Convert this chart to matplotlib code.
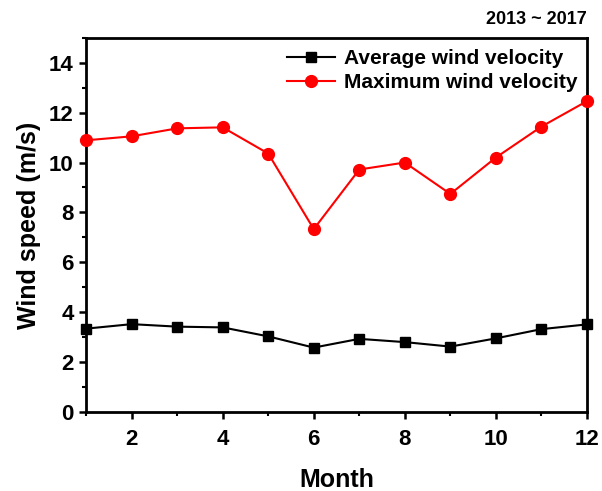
import numpy as np
import matplotlib.pyplot as plt
from matplotlib.ticker import MultipleLocator

plt.rcParams['font.family'] = ['Liberation Sans', 'DejaVu Sans']
plt.rcParams['font.weight'] = 'bold'

months = [1, 2, 3, 4, 5, 6, 7, 8, 9, 10, 11, 12]
avg_wind = [3.34, 3.52, 3.42, 3.39, 3.03, 2.58, 2.93, 2.80, 2.62, 2.95, 3.32, 3.51]
max_wind = [10.89, 11.05, 11.37, 11.41, 10.36, 7.33, 9.72, 10.00, 8.74, 10.20, 11.44, 12.46]

fig = plt.figure(figsize=(6.02, 4.91), dpi=100)
ax = fig.add_axes([0.143, 0.161, 0.832, 0.762])

ax.plot(months, avg_wind, color='black', marker='s', markersize=7.5, lw=1.5,
        label='Average wind velocity', clip_on=False, zorder=3)
ax.plot(months, max_wind, color='red', marker='o', markersize=8.5, lw=1.5,
        label='Maximum wind velocity', clip_on=False, zorder=3)

ax.set_xlim(1, 12)
ax.set_ylim(0, 15)
ax.xaxis.set_major_locator(MultipleLocator(2))
ax.xaxis.set_minor_locator(MultipleLocator(1))
ax.yaxis.set_major_locator(MultipleLocator(2))
ax.yaxis.set_minor_locator(MultipleLocator(1))
ax.set_xticks([2, 4, 6, 8, 10, 12])

for s in ax.spines.values():
    s.set_linewidth(2)
ax.tick_params(which='major', direction='out', length=5, width=1.8, labelsize=16, pad=4)
ax.tick_params(axis='x', which='major', pad=7)
ax.tick_params(which='minor', direction='out', length=3, width=1.5)
for lab in ax.get_xticklabels() + ax.get_yticklabels():
    lab.set_fontweight('bold')

ax.set_xlabel('Month', fontsize=18, fontweight='bold', labelpad=13)
ax.set_ylabel('Wind speed (m/s)', fontsize=18, fontweight='bold', labelpad=6)

ax.legend(loc='upper right', frameon=False, handlelength=2.3,
          borderaxespad=0.15, labelspacing=0.25, handletextpad=0.45,
          bbox_to_anchor=(1.005, 1.0),
          prop={'weight': 'bold', 'size': 15})

fig.text(0.975, 0.943, '2013 ~ 2017', ha='right', va='bottom', fontsize=13, fontweight='bold')

fig.savefig('out.png', dpi=100)
